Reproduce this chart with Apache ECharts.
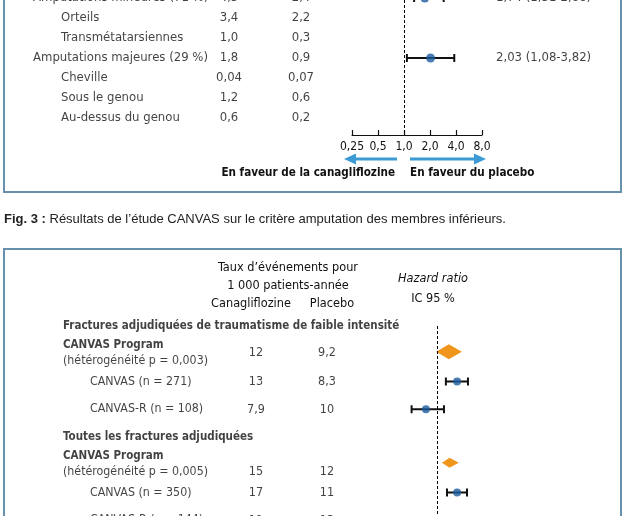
<!DOCTYPE html>
<html><head><meta charset="utf-8">
<script src="https://cdn.jsdelivr.net/npm/echarts@6/dist/echarts.min.js"></script>
<style>html,body{margin:0;padding:0;background:#fff}#c{width:628px;height:516px}</style>
</head><body><div id="c"></div>
<script>
// ---------- DATA (top panel: amputations) ----------
const topLabels = ['Amputations mineures (71 %)', 'Orteils', 'Transmétatarsiennes', 'Amputations majeures (29 %)', 'Cheville', 'Sous le genou', 'Au-dessus du genou'];
const topIndent = [0, 1, 1, 0, 1, 1, 1];
const topCana = ['4,3', '3,4', '1,0', '1,8', '0,04', '1,2', '0,6'];
const topPlac = ['2,4', '2,2', '0,3', '0,9', '0,07', '0,6', '0,2'];
const topHR = [1.74, null, null, 2.03, null, null, null];
const topLo = [1.31, null, null, 1.08, null, null, null];
const topHi = [2.88, null, null, 3.82, null, null, null];
const topHRText = ['1,74 (1,31-2,88)', '', '', '2,03 (1,08-3,82)', '', '', ''];
const tickValues = [0.25, 0.5, 1, 2, 4, 8];
const tickLabels = ['0,25', '0,5', '1,0', '2,0', '4,0', '8,0'];

// ---------- DATA (bottom panel: fractures) ----------
const botLabels = ['Fractures adjudiquées de traumatisme de faible intensité', 'CANVAS Program', 'CANVAS (n = 271)', 'CANVAS-R (n = 108)', 'Toutes les fractures adjudiquées', 'CANVAS Program', 'CANVAS (n = 350)', 'CANVAS-R (n = 144)'];
const botSub = ['', '(hétérogénéité p = 0,003)', '', '', '', '(hétérogénéité p = 0,005)', '', ''];
const botKind = ['section', 'program', 'study', 'study', 'section', 'program', 'study', 'study'];
const botCana = ['', '12', '13', '7,9', '', '15', '17', '11'];
const botPlac = ['', '9,2', '8,3', '10', '', '12', '11', '13'];
const botHR = [null, 1.28, 1.54, 0.77, null, 1.30, 1.54, 0.90];
const botLo = [null, 0.97, 1.20, 0.56, null, 1.10, 1.23, 0.67];
const botHi = [null, 1.71, 1.96, 1.15, null, 1.60, 1.92, 1.20];

// ---------- LAYOUT ----------
const NARROW = '"DejaVu Sans Condensed", "Liberation Sans Narrow", "Roboto", sans-serif';
const TXT = '#111111';
const BLUE = '#1b5c9e';
const ORANGE = '#f0961c';
const ARROW = '#3c9bd5';
const BORDER = '#6790ab';
const topCol = {main: 33, sub: 61, cana: 229, plac: 301, hr: 496};
const botCol = {main: 63, sub: 90, cana: 256, plac: 327};
const botValOffset = [0, -1, 0, 0, 0, 7, 0, 0];
const progOffsets = [-9, 7];
const ROW = 27.75;
const BOT_H = 190;

function textItem(x, y, txt) {
  return {value: [x, y], label: {formatter: () => txt}};
}
function textSeries(xi, yi, data, font, align, weight) {
  return {
    type: 'scatter', xAxisIndex: xi, yAxisIndex: yi, symbolSize: 0, clip: false, silent: true,
    data: data,
    label: {show: true, position: align === 'center' ? 'inside' : (align === 'left' ? 'right' : 'left'),
      distance: 0, color: TXT, textBorderWidth: 0, fontFamily: NARROW, fontSize: font, fontWeight: weight || 'normal'}
  };
}

// top text data
const topLabelData = topLabels.map((l, i) => textItem(topIndent[i] ? topCol.sub : topCol.main, i, l));
const topCanaData = topCana.map((v, i) => textItem(topCol.cana, i, v));
const topPlacData = topPlac.map((v, i) => textItem(topCol.plac, i, v));
const topHRData = topHRText.map((v, i) => textItem(topCol.hr, i, v));

// bottom text data
const botBoldData = [], botNormData = [];
botLabels.forEach((l, i) => {
  if (botKind[i] === 'section') botBoldData.push(textItem(botCol.main, i, l));
  else if (botKind[i] === 'program') {
    const t = textItem(botCol.main, i, l); t.label.offset = [0, progOffsets[0]]; botBoldData.push(t);
    const it = textItem(botCol.main, i, botSub[i]); it.label.offset = [0, progOffsets[1]]; botNormData.push(it);
  } else botNormData.push(textItem(botCol.sub, i, l));
});
const botValData = [];
botCana.forEach((v, i) => { if (v) { const it = textItem(botCol.cana, i, v); it.label.offset = [0, botValOffset[i]]; botValData.push(it); } });
botPlac.forEach((v, i) => { if (v) { const it = textItem(botCol.plac, i, v); it.label.offset = [0, botValOffset[i]]; botValData.push(it); } });

// forest data
const topCI = [], topPts = [];
topHR.forEach((h, i) => { if (h != null) { topCI.push([topLo[i], topHi[i], i]); topPts.push([h, i]); } });
const botCI = [], botPts = [], botDiam = [];
botHR.forEach((h, i) => {
  if (h == null) return;
  if (botKind[i] === 'program') botDiam.push([h, botLo[i], botHi[i], i]);
  else { botCI.push([botLo[i], botHi[i], i]); botPts.push([h, i]); }
});

function renderCI(params, api) {
  const a = api.coord([api.value(0), api.value(2)]);
  const b = api.coord([api.value(1), api.value(2)]);
  const st = {stroke: '#111', lineWidth: 2};
  return {type: 'group', children: [
    {type: 'line', shape: {x1: a[0], y1: a[1], x2: b[0], y2: b[1]}, style: st},
    {type: 'line', shape: {x1: a[0], y1: a[1] - 4, x2: a[0], y2: a[1] + 4}, style: st},
    {type: 'line', shape: {x1: b[0], y1: b[1] - 4, x2: b[0], y2: b[1] + 4}, style: st}
  ]};
}
function renderDiamond(params, api) {
  const c = api.coord([api.value(0), api.value(3)]);
  const l = api.coord([api.value(1), api.value(3)]);
  const r = api.coord([api.value(2), api.value(3)]);
  const h = (r[0] - l[0]) * 0.29;
  const cy = c[1] - 2;
  return {type: 'polygon', shape: {points: [[l[0], cy], [c[0], cy - h], [r[0], cy], [c[0], cy + h]]},
    style: {fill: ORANGE}};
}

const dashed = {silent: true, symbol: 'none', label: {show: false},
  lineStyle: {color: '#000', type: [3, 2], width: 1}, data: [{xAxis: 1}]};

const hidden = {show: false};
const option = {
  animation: false,
  grid: [
    {left: 0, width: 628, top: 0, height: 135},
    {left: 352, width: 130, top: 0, height: 135},
    {left: 0, width: 628, top: 326, height: BOT_H},
    {left: 406.5, width: 72.4, top: 326, height: BOT_H}
  ],
  xAxis: [
    Object.assign({type: 'value', gridIndex: 0, min: 0, max: 628}, hidden),
    {type: 'log', logBase: 2, gridIndex: 1, min: 0.25, max: 8,
      axisLine: {show: true, lineStyle: {color: '#111', width: 1.2}},
      axisTick: {show: true, inside: true, length: 5, lineStyle: {color: '#111', width: 1.2}},
      splitLine: {show: false}, minorTick: {show: false},
      axisLabel: {margin: 6, color: TXT, fontFamily: NARROW, fontSize: 12,
        formatter: v => { let k = 0; tickValues.forEach((t, j) => { if (Math.abs(Math.log(t) - Math.log(v)) < Math.abs(Math.log(tickValues[k]) - Math.log(v))) k = j; }); return tickLabels[k]; }}},
    Object.assign({type: 'value', gridIndex: 2, min: 0, max: 628}, hidden),
    Object.assign({type: 'log', logBase: 10, gridIndex: 3, min: 0.5, max: 2.5}, hidden)
  ],
  yAxis: [
    Object.assign({type: 'value', gridIndex: 0, inverse: true, min: 0.1, max: 6.85}, hidden),
    Object.assign({type: 'value', gridIndex: 1, inverse: true, min: 0.1, max: 6.85}, hidden),
    Object.assign({type: 'value', gridIndex: 2, inverse: true, min: 0, max: BOT_H / ROW}, hidden),
    Object.assign({type: 'value', gridIndex: 3, inverse: true, min: 0, max: BOT_H / ROW}, hidden)
  ],
  series: [
    textSeries(0, 0, topLabelData, 13, 'left'),
    textSeries(0, 0, topCanaData, 13, 'center'),
    textSeries(0, 0, topPlacData, 13, 'center'),
    textSeries(0, 0, topHRData, 13, 'left'),
    {type: 'custom', xAxisIndex: 1, yAxisIndex: 1, renderItem: renderCI, data: topCI, clip: false, markLine: dashed,
      encode: {x: [0, 1], y: 2}},
    {type: 'scatter', xAxisIndex: 1, yAxisIndex: 1, data: topPts, symbol: 'circle', symbolSize: 9, clip: false,
      itemStyle: {color: BLUE}, z: 5},
    textSeries(2, 2, botBoldData, 11.5, 'left', 'bold'),
    textSeries(2, 2, botNormData, 12.3, 'left'),
    textSeries(2, 2, botValData, 12.5, 'center'),
    {type: 'custom', xAxisIndex: 3, yAxisIndex: 3, renderItem: renderCI, data: botCI, clip: false, markLine: dashed,
      encode: {x: [0, 1], y: 2}},
    {type: 'scatter', xAxisIndex: 3, yAxisIndex: 3, data: botPts, symbol: 'circle', symbolSize: 8, clip: false,
      itemStyle: {color: BLUE}, z: 5},
    {type: 'custom', xAxisIndex: 3, yAxisIndex: 3, renderItem: renderDiamond, data: botDiam, clip: false,
      encode: {x: [0, 1, 2], y: 3}}
  ],
  graphic: [
    {type: 'rect', shape: {x: 4, y: -10, width: 617, height: 202}, style: {fill: 'none', stroke: BORDER, lineWidth: 2}},
    {type: 'rect', shape: {x: 4, y: 249, width: 617, height: 300}, style: {fill: 'none', stroke: BORDER, lineWidth: 2}},
    {type: 'line', shape: {x1: 397, y1: 159, x2: 352, y2: 159}, style: {stroke: ARROW, lineWidth: 3}},
    {type: 'polygon', shape: {points: [[344, 159], [356, 153.5], [356, 164.5]]}, style: {fill: ARROW}},
    {type: 'line', shape: {x1: 410, y1: 159, x2: 478, y2: 159}, style: {stroke: ARROW, lineWidth: 3}},
    {type: 'polygon', shape: {points: [[486, 159], [474, 153.5], [474, 164.5]]}, style: {fill: ARROW}},
    {type: 'text', x: 395, y: 173, style: {text: 'En faveur de la canagliflozine', align: 'right', verticalAlign: 'middle',
      font: 'bold 11.6px ' + NARROW, fill: TXT}},
    {type: 'text', x: 410, y: 173, style: {text: 'En faveur du placebo', align: 'left', verticalAlign: 'middle',
      font: 'bold 11.6px ' + NARROW, fill: TXT}},
    {type: 'text', x: 4, y: 219, style: {text: '{b|Fig. 3 :} Résultats de l\u2019étude CANVAS sur le critère amputation des membres inférieurs.',
      verticalAlign: 'middle', font: '13px "Liberation Sans", Arial, sans-serif', fill: '#222',
      rich: {b: {fontWeight: 'bold', fontFamily: '"Liberation Sans", Arial, sans-serif', fontSize: 13, fill: '#222'}}}},
    {type: 'text', x: 288, y: 268, style: {text: 'Taux d\u2019événements pour', align: 'center', verticalAlign: 'middle', font: '12.6px ' + NARROW, fill: TXT}},
    {type: 'text', x: 288, y: 286, style: {text: '1 000 patients-année', align: 'center', verticalAlign: 'middle', font: '12.6px ' + NARROW, fill: TXT}},
    {type: 'text', x: 251, y: 304, style: {text: 'Canagliflozine', align: 'center', verticalAlign: 'middle', font: '12.6px ' + NARROW, fill: TXT}},
    {type: 'text', x: 332, y: 304, style: {text: 'Placebo', align: 'center', verticalAlign: 'middle', font: '12.6px ' + NARROW, fill: TXT}},
    {type: 'text', x: 433, y: 279, style: {text: 'Hazard ratio', align: 'center', verticalAlign: 'middle', font: 'italic 12.6px ' + NARROW, fill: TXT}},
    {type: 'text', x: 433, y: 299, style: {text: 'IC 95 %', align: 'center', verticalAlign: 'middle', font: '12.6px ' + NARROW, fill: TXT}}
  ]
};
const chart = echarts.init(document.getElementById('c'), null, {renderer: 'canvas'});
chart.setOption(option);
</script></body></html>
